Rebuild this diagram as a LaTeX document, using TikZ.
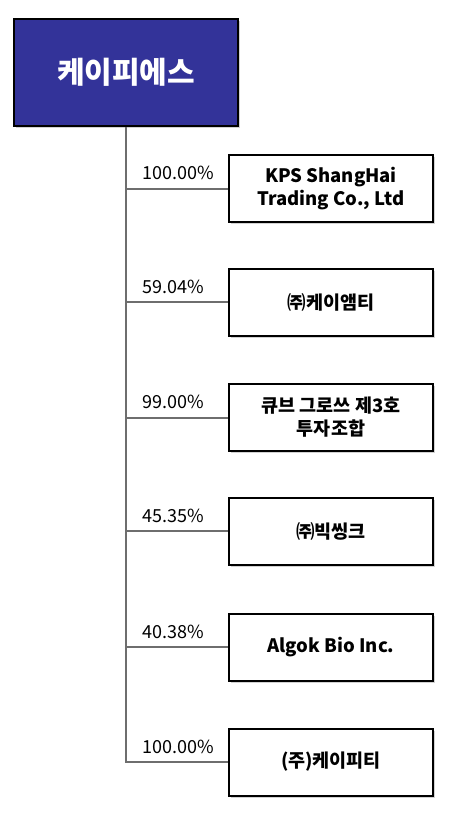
\documentclass[tikz,border=0pt]{standalone}
\usepackage{fontspec}
\newfontfamily\kr{Noto Sans CJK KR}
\definecolor{kpsblue}{RGB}{51,51,153}
\definecolor{linegray}{RGB}{110,110,110}
\usetikzlibrary{positioning,shadows}

\tikzset{
  parentbox/.style={draw=black, line width=2pt, fill=kpsblue, text=white,
    minimum width=224pt, minimum height=107pt,
    font=\kr\bfseries\fontsize{30}{34}\selectfont,
    drop shadow={shadow xshift=2pt, shadow yshift=-2pt, fill=black!35}},
  childbox/.style={draw=black, line width=2pt, fill=white, align=center,
    minimum width=204pt, minimum height=67pt,
    font=\kr\bfseries\fontsize{18.5}{23}\selectfont,
    drop shadow={shadow xshift=2pt, shadow yshift=-2pt, fill=black!35}},
  pct/.style={anchor=base west, inner sep=0pt,
    font=\kr\fontsize{18}{20}\selectfont},
  trunk/.style={draw=linegray, line width=2pt}
}

\begin{document}
\begin{tikzpicture}[x=1pt, y=-1pt]
  \useasboundingbox (0,0) rectangle (458,815);

  % 모회사
  \node[parentbox] (kps) at (126,72.5) {케이피에스};

  % 자회사 (위에서부터)
  \node[childbox] (c1) at (331,188.5) {KPS ShangHai\\Trading Co., Ltd};
  \node[childbox] (c2) at (331,302) {㈜케이앰티};
  \node[childbox] (c3) at (331,417.5) {큐브 그로쓰 제3호\\투자조합};
  \node[childbox] (c4) at (331,531) {㈜빅씽크};
  \node[childbox] (c5) at (331,647) {Algok Bio Inc.};
  \node[childbox] (c6) at (331,762) {(주)케이피티};

  % 세로선과 가로선
  \draw[trunk] (kps.south) |- (c6.west);
  \draw[trunk] (kps.south |- c1.west) -- (c1.west);
  \draw[trunk] (kps.south |- c2.west) -- (c2.west);
  \draw[trunk] (kps.south |- c3.west) -- (c3.west);
  \draw[trunk] (kps.south |- c4.west) -- (c4.west);
  \draw[trunk] (kps.south |- c5.west) -- (c5.west);

  % 지분율
  \node[pct] (p1) at (142,179.5) {100.00\%};
  \node[pct] (p2) at (142,293) {59.04\%};
  \node[pct] (p3) at (142,408.5) {99.00\%};
  \node[pct] (p4) at (142,522) {45.35\%};
  \node[pct] (p5) at (142,638) {40.38\%};
  \node[pct] (p6) at (142,753) {100.00\%};
\end{tikzpicture}
\end{document}
